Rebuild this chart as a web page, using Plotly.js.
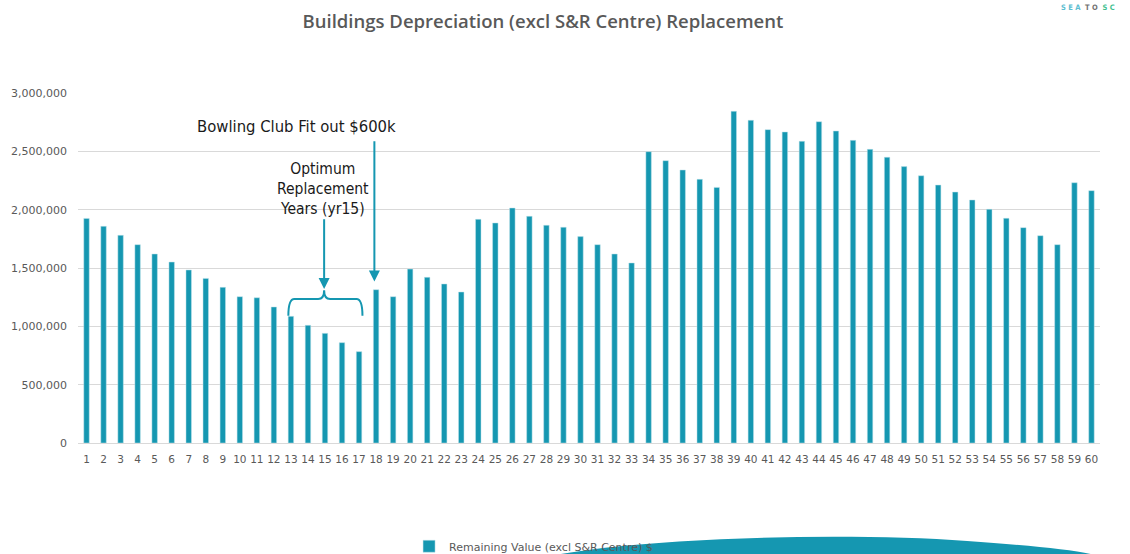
<!DOCTYPE html>
<html>
<head>
<meta charset="utf-8">
<script src="https://cdn.plot.ly/plotly-3.0.1.min.js"></script>
<style>html,body{margin:0;padding:0;background:#fff;}#chart{width:1130px;height:554px;}</style>
</head>
<body>
<div id="chart"></div>
<script>
// ---- data ----
const years = Array.from({length: 60}, (_, i) => i + 1);
const remainingValue = [
  1925000, 1857000, 1780000, 1700000, 1620000, 1551000, 1483000, 1411000, 1334000, 1254000,
  1245000, 1166000, 1086000, 1009000, 940000, 860000, 783000, 1314000, 1254000, 1491000,
  1420000, 1363000, 1294000, 1917000, 1886000, 2014000, 1943000, 1866000, 1849000, 1769000,
  1700000, 1620000, 1543000, 2497000, 2420000, 2340000, 2260000, 2191000, 2843000, 2766000,
  2686000, 2666000, 2586000, 2754000, 2674000, 2594000, 2517000, 2449000, 2369000, 2291000,
  2211000, 2151000, 2083000, 2003000, 1926000, 1846000, 1777000, 1700000, 2231000, 2163000
];
const seriesName = 'Remaining Value (excl S&R Centre) $';
const chartTitle = 'Buildings Depreciation (excl S&R Centre) Replacement';
const yTickVals = [0, 500000, 1000000, 1500000, 2000000, 2500000, 3000000];
const yTickText = ['0', '500,000', '1,000,000', '1,500,000', '2,000,000', '2,500,000', '3,000,000'];
const bowlingLabel = 'Bowling Club Fit out $600k';
const bowlingYear = 18;
const optimumLabel = 'Optimum<br>Replacement<br>Years (yr15)';
const optimumYear = 15;
const optimumStart = 13, optimumEnd = 17;

const teal = '#1597b1';
const grey = '#595959';

const trace = {
  type: 'bar',
  x: years,
  y: remainingValue,
  name: seriesName,
  marker: {color: teal, line: {color: '#bfe3ea', width: 0.5}},
  showlegend: true,
  hoverinfo: 'x+y'
};

// brace (in data coordinates)
const bTop = 1235000, bEnd = 1090000, bTip = 1310000;
const xl = optimumStart - 0.15, xr = optimumEnd + 0.2, xm = optimumYear - 0.05;
const bracePath = `M ${xl},${bEnd} Q ${xl},${bTop} ${xl+0.35},${bTop} L ${xm-0.35},${bTop} Q ${xm},${bTop} ${xm},${bTip} ` +
  `Q ${xm},${bTop} ${xm+0.35},${bTop} L ${xr-0.35},${bTop} Q ${xr},${bTop} ${xr},${bEnd}`;

const layout = {
  width: 1130, height: 554,
  margin: {l: 78, r: 30, t: 93, b: 111},
  paper_bgcolor: '#ffffff', plot_bgcolor: '#ffffff',
  title: {
    text: chartTitle,
    x: 0.4805, xanchor: 'center', y: 0.962, yanchor: 'middle',
    font: {family: 'Open Sans, sans-serif', size: 18.5, color: grey, weight: 600}
  },
  bargap: 0.68,
  xaxis: {
    type: 'linear', range: [0.5, 60.5], tickmode: 'array', tickvals: years,
    ticktext: years.map(String), ticks: '', showgrid: false,
    showline: true, linecolor: '#d9d9d9', linewidth: 1,
    tickfont: {family: 'DejaVu Sans, sans-serif', size: 10.5, color: grey},
    ticklabelstandoff: 6,
    fixedrange: true, zeroline: false
  },
  yaxis: {
    range: [0, 3000000], tickmode: 'array', tickvals: yTickVals, ticktext: yTickText,
    showgrid: true, gridcolor: '#d9d9d9', gridwidth: 1, zeroline: false,
    showline: false, ticks: '',
    tickfont: {family: 'DejaVu Sans, sans-serif', size: 11, color: grey},
    ticklabelstandoff: 10,
    fixedrange: true
  },
  legend: {
    orientation: 'h', xref: 'container', yref: 'container',
    x: 0.362, xanchor: 'left', y: 0.014, yanchor: 'middle',
    font: {family: 'DejaVu Sans, sans-serif', size: 11, color: grey},
    bgcolor: 'rgba(0,0,0,0)', itemwidth: 30
  },
  annotations: [
    {
      xref: 'x', yref: 'y', x: bowlingYear - 4.7, y: 2710000,
      text: bowlingLabel, showarrow: false,
      font: {family: 'DejaVu Sans Condensed, DejaVu Sans, sans-serif', size: 16.5, color: '#1a1a1a'},
      xanchor: 'center', yanchor: 'middle'
    },
    {
      xref: 'x', yref: 'y', x: bowlingYear - 0.1, y: 1385000,
      axref: 'x', ayref: 'y', ax: bowlingYear - 0.1, ay: 2600000,
      text: '', showarrow: true, arrowhead: 2, arrowsize: 1.1, arrowwidth: 2, arrowcolor: teal
    },
    {
      xref: 'x', yref: 'y', x: optimumYear - 0.1, y: 2177000,
      text: optimumLabel, showarrow: false,
      font: {family: 'DejaVu Sans Condensed, DejaVu Sans, sans-serif', size: 15.5, color: '#1a1a1a'},
      xanchor: 'center', yanchor: 'middle', align: 'center'
    },
    {
      xref: 'x', yref: 'y', x: optimumYear - 0.05, y: 1320000,
      axref: 'x', ayref: 'y', ax: optimumYear - 0.05, ay: 1930000,
      text: '', showarrow: true, arrowhead: 2, arrowsize: 1.1, arrowwidth: 2, arrowcolor: teal
    },
    {
      xref: 'paper', yref: 'paper', x: 1.017, y: 1.245, xanchor: 'right', yanchor: 'middle',
      text: '<b><span style="color:#5bbdd0">S E A</span>  <span style="color:#707070">T O</span>  <span style="color:#3fbf8f">S C</span></b>',
      showarrow: false, font: {family: 'DejaVu Sans Condensed, DejaVu Sans, sans-serif', size: 7.5}
    }
  ],
  shapes: [
    {type: 'path', xref: 'x', yref: 'y', path: bracePath, line: {color: teal, width: 2}},
    {
      type: 'path', xref: 'paper', yref: 'paper', layer: 'below',
      path: 'M 0.467,-0.32 C 0.56,-0.27 0.75,-0.255 0.87,-0.28 C 0.93,-0.293 0.975,-0.305 0.995,-0.32 Z',
      fillcolor: teal, line: {width: 0}
    }
  ]
};

Plotly.newPlot('chart', [trace], layout, {displayModeBar: false, staticPlot: true});
</script>
</body>
</html>
